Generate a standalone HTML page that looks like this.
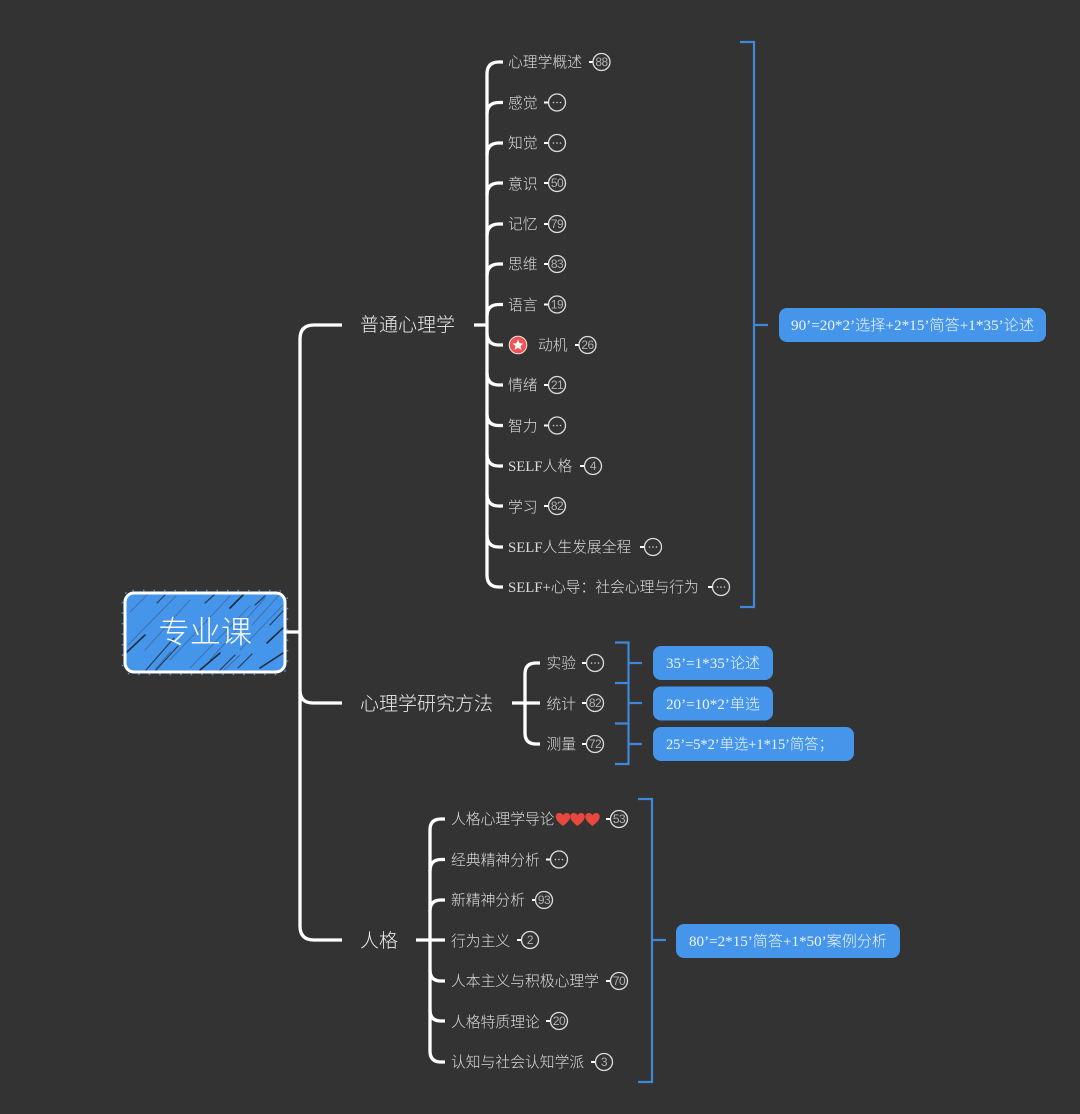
<!DOCTYPE html>
<html><head><meta charset="utf-8">
<style>
html,body{margin:0;padding:0;background:#333;width:1080px;height:1114px;overflow:hidden}
svg{display:block}
text{font-family:"Liberation Serif","Noto Sans CJK SC",sans-serif;font-weight:300}
.t{font-size:14.800px;fill:#dcdcdc}
.m{font-size:19px;fill:#ececec}
.b{font-size:15px;fill:#eef4fc}
.n{font-family:"Liberation Sans",sans-serif;font-size:12px;letter-spacing:-.5px;fill:#b0b0b0;text-anchor:middle}
.w{fill:none;stroke:#fff;stroke-width:3.300}
.s{fill:none;stroke:#fff;stroke-width:2}
.bl{fill:none;stroke:#3f88d8;stroke-width:2.200}
.c{fill:#333;stroke:#dcdcdc;stroke-width:1.300}
.d{fill:#d0d0d0}
.box{fill:#4596ea}
</style></head><body>
<svg width="1080" height="1114" viewBox="0 0 1080 1114" xmlns="http://www.w3.org/2000/svg">
<defs><clipPath id="cp"><rect x="125" y="593" width="160" height="79" rx="9"/></clipPath></defs>
<rect width="1080" height="1114" fill="#333"/>

<!-- trunk -->
<path class="w" d="M286 632H300M342 325H314Q300 325 300 339V926Q300 940 314 940H342M300 690Q300 703 313 703H342"/>

<!-- root -->
<rect x="122.500" y="590.500" width="165" height="84" rx="10" fill="none" stroke="#4596ea" stroke-width="1.500" stroke-dasharray="1.500 9"/>
<rect x="125" y="593" width="160" height="79" rx="9" class="box"/>
<g clip-path="url(#cp)" fill="none" stroke-linecap="round">
<g stroke="#3b72b0" stroke-width="1">
<path d="M130 612L148 594M145 650L190 600M170 660L230 596M210 660L265 598M240 650L284 604M128 645L176 596M155 670L170 652M224 670L240 655M252 625L280 594M190 668L250 606"/>
</g>
<g stroke="#2a3c55" stroke-width="1.200">
<path d="M146 670L174 638M156 670L178 646M220 670L235 655M157 603L165 595M205 603L214 595M255 605L265 596M270 625L284 610M238 668L252 654"/>
</g>
<g stroke="#1f2a3a" stroke-width="1.600">
<path d="M127 652L145 635M200 670L220 653M230 608L243 595M267 643L283 628M260 668L283 653"/>
</g>
</g>
<rect x="125" y="593" width="160" height="79" rx="9" fill="none" stroke="#fff" stroke-width="3"/>
<text x="158.500" y="643" font-size="31.200" fill="#fafafa">专业课</text>

<!-- branch labels -->
<text class="m" x="360" y="331">普通心理学</text>
<text class="m" x="360" y="710">心理学研究方法</text>
<text class="m" x="360" y="947">人格</text>

<!-- branch 1 connectors -->
<path class="w" d="M474 325H487M503 62H499Q487 62 487 74V575Q487 587 499 587H503"/>
<path class="w" stroke-linecap="butt" d="M503 102.500H499Q487 102.500 487 114M503 143H499Q487 143 487 155M503 183H499Q487 183 487 195M503 224H499Q487 224 487 236M503 264H499Q487 264 487 276M503 304.500H499Q487 304.500 487 316M503 345H499Q487 345 487 333M503 385H499Q487 385 487 373M503 425.500H499Q487 425.500 487 414M503 466H499Q487 466 487 454M503 506H499Q487 506 487 494M503 547H499Q487 547 487 535"/>

<!-- branch 1 items -->
<text class="t" x="508" y="67">心理学概述</text>
<path class="s" d="M589 62H595"/><circle class="c" cx="601.500" cy="62" r="8.500"/><text class="n" x="601.500" y="66">88</text>
<text class="t" x="508" y="108">感觉</text>
<path class="s" d="M544 102.500H550"/><circle class="c" cx="557" cy="102.500" r="8.500"/><circle class="d" cx="553.500" cy="102.500" r=".8"/><circle class="d" cx="557" cy="102.500" r=".8"/><circle class="d" cx="560.500" cy="102.500" r=".8"/>
<text class="t" x="508" y="148">知觉</text>
<path class="s" d="M544 143H550"/><circle class="c" cx="557" cy="143" r="8.500"/><circle class="d" cx="553.500" cy="143" r=".8"/><circle class="d" cx="557" cy="143" r=".8"/><circle class="d" cx="560.500" cy="143" r=".8"/>
<text class="t" x="508" y="189">意识</text>
<path class="s" d="M544 183H550"/><circle class="c" cx="557" cy="183" r="8.500"/><text class="n" x="557" y="187">50</text>
<text class="t" x="508" y="229">记忆</text>
<path class="s" d="M544 224H550"/><circle class="c" cx="557" cy="224" r="8.500"/><text class="n" x="557" y="228">79</text>
<text class="t" x="508" y="269">思维</text>
<path class="s" d="M544 264H550"/><circle class="c" cx="557" cy="264" r="8.500"/><text class="n" x="557" y="268">83</text>
<text class="t" x="508" y="310">语言</text>
<path class="s" d="M544 304.500H550"/><circle class="c" cx="557" cy="304.500" r="8.500"/><text class="n" x="557" y="308.500">19</text>
<circle cx="518" cy="345" r="8.800" fill="#f15252" stroke="#f4e4e4" stroke-width="1"/>
<polygon points="518,339.500 519.600,343.200 523.500,343.500 520.500,346 521.500,350 518,347.800 514.500,350 515.500,346 512.500,343.500 516.400,343.200" fill="#fff"/>
<text class="t" x="538" y="350">动机</text>
<path class="s" d="M575 345H581"/><circle class="c" cx="587.500" cy="345" r="8.500"/><text class="n" x="587.500" y="349">26</text>
<text class="t" x="508" y="390">情绪</text>
<path class="s" d="M544 385H550"/><circle class="c" cx="557" cy="385" r="8.500"/><text class="n" x="557" y="389">21</text>
<text class="t" x="508" y="431">智力</text>
<path class="s" d="M544 425.500H550"/><circle class="c" cx="557" cy="425.500" r="8.500"/><circle class="d" cx="553.500" cy="425.500" r=".8"/><circle class="d" cx="557" cy="425.500" r=".8"/><circle class="d" cx="560.500" cy="425.500" r=".8"/>
<text class="t" x="508" y="471">SELF人格</text>
<path class="s" d="M580 466H586"/><circle class="c" cx="593" cy="466" r="8.500"/><text class="n" x="593" y="470">4</text>
<text class="t" x="508" y="512">学习</text>
<path class="s" d="M544 506H550"/><circle class="c" cx="557" cy="506" r="8.500"/><text class="n" x="557" y="510">82</text>
<text class="t" x="508" y="552">SELF人生发展全程</text>
<path class="s" d="M640 547H646"/><circle class="c" cx="653" cy="547" r="8.500"/><circle class="d" cx="649.500" cy="547" r=".8"/><circle class="d" cx="653" cy="547" r=".8"/><circle class="d" cx="656.500" cy="547" r=".8"/>
<text class="t" x="508" y="592">SELF+心导：社会心理与行为</text>
<path class="s" d="M708 587H714"/><circle class="c" cx="721" cy="587" r="8.500"/><circle class="d" cx="717.500" cy="587" r=".8"/><circle class="d" cx="721" cy="587" r=".8"/><circle class="d" cx="724.500" cy="587" r=".8"/>

<!-- branch 1 bracket -->
<path class="bl" d="M740 42H754V607H740M754 325H768"/>
<rect class="box" x="779" y="308" width="267" height="34" rx="8"/>
<text class="b" x="791" y="330" textLength="243" lengthAdjust="spacingAndGlyphs">90’=20*2’选择+2*15’简答+1*35’论述</text>

<!-- branch 2 -->
<path class="w" d="M512 703H540M540 663H536Q525 663 525 674V733Q525 744 536 744H540"/>
<text class="t" x="546.500" y="668">实验</text>
<path class="s" d="M582 663H588"/><circle class="c" cx="595" cy="663" r="8.500"/><circle class="d" cx="591.500" cy="663" r=".8"/><circle class="d" cx="595" cy="663" r=".8"/><circle class="d" cx="598.500" cy="663" r=".8"/>
<text class="t" x="546.500" y="709">统计</text>
<path class="s" d="M582 703H588"/><circle class="c" cx="595" cy="703" r="8.500"/><text class="n" x="595" y="707">82</text>
<text class="t" x="546.500" y="749">测量</text>
<path class="s" d="M582 744H588"/><circle class="c" cx="595" cy="744" r="8.500"/><text class="n" x="595" y="748">72</text>
<path class="bl" d="M615 642.500H628.500V764H615M615 683H628.500M615 723.500H628.500M628.500 663H642M628.500 703H642M628.500 744H642"/>
<rect class="box" x="653" y="646" width="120" height="34" rx="8"/>
<text class="b" x="666" y="668" textLength="94" lengthAdjust="spacingAndGlyphs">35’=1*35’论述</text>
<rect class="box" x="653" y="686.500" width="120" height="34" rx="8"/>
<text class="b" x="666" y="709" textLength="94" lengthAdjust="spacingAndGlyphs">20’=10*2’单选</text>
<rect class="box" x="653" y="727" width="201" height="34" rx="8"/>
<text class="b" x="666" y="749" textLength="167" lengthAdjust="spacingAndGlyphs">25’=5*2’单选+1*15’简答；</text>

<!-- branch 3 -->
<path class="w" d="M416 940H445M445 819H441Q430 819 430 830V1051Q430 1062 441 1062H445"/>
<path class="w" d="M445 859.500H441Q430 859.500 430 871M445 900H441Q430 900 430 911M445 981H441Q430 981 430 970M445 1021H441Q430 1021 430 1010"/>
<text class="t" x="451" y="824">人格心理学导论</text>
<g fill="#e8473d">
<path d="M563 826C557.500 821.500 555.800 819.500 555.800 816.600C555.800 812.400 561.300 811.700 563 815.300C564.700 811.700 570.200 812.400 570.200 816.600C570.200 819.500 568.500 821.500 563 826Z"/>
<path d="M577.500 826C572 821.500 570.300 819.500 570.300 816.600C570.300 812.400 575.800 811.700 577.500 815.300C579.200 811.700 584.700 812.400 584.700 816.600C584.700 819.500 583 821.500 577.500 826Z"/>
<path d="M592.500 826C587 821.500 585.300 819.500 585.300 816.600C585.300 812.400 590.800 811.700 592.500 815.300C594.200 811.700 599.700 812.400 599.700 816.600C599.700 819.500 598 821.500 592.500 826Z"/>
</g>
<path class="s" d="M606 819H612"/><circle class="c" cx="619" cy="819" r="8.500"/><text class="n" x="619" y="823">53</text>
<text class="t" x="451" y="865">经典精神分析</text>
<path class="s" d="M546 859.500H552"/><circle class="c" cx="559" cy="859.500" r="8.500"/><circle class="d" cx="555.500" cy="859.500" r=".8"/><circle class="d" cx="559" cy="859.500" r=".8"/><circle class="d" cx="562.500" cy="859.500" r=".8"/>
<text class="t" x="451" y="905">新精神分析</text>
<path class="s" d="M532 900H538"/><circle class="c" cx="544" cy="900" r="8.500"/><text class="n" x="544" y="904">93</text>
<text class="t" x="451" y="946">行为主义</text>
<path class="s" d="M517 940H523"/><circle class="c" cx="530" cy="940" r="8.500"/><text class="n" x="530" y="944">2</text>
<text class="t" x="451" y="986">人本主义与积极心理学</text>
<path class="s" d="M606 981H612"/><circle class="c" cx="619" cy="981" r="8.500"/><text class="n" x="619" y="985">70</text>
<text class="t" x="451" y="1027">人格特质理论</text>
<path class="s" d="M546 1021H552"/><circle class="c" cx="559" cy="1021" r="8.500"/><text class="n" x="559" y="1025">20</text>
<text class="t" x="451" y="1067">认知与社会认知学派</text>
<path class="s" d="M591 1062H597"/><circle class="c" cx="604" cy="1062" r="8.500"/><text class="n" x="604" y="1066">3</text>
<path class="bl" d="M638 799H652V1082H638M652 940H666"/>
<rect class="box" x="676" y="924" width="224" height="34" rx="8"/>
<text class="b" x="689" y="946" textLength="198" lengthAdjust="spacingAndGlyphs">80’=2*15’简答+1*50’案例分析</text>
</svg>
</body></html>
